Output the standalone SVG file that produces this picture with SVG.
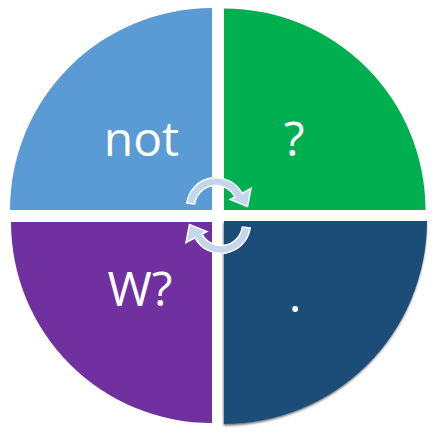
<svg xmlns="http://www.w3.org/2000/svg" xmlns:xlink="http://www.w3.org/1999/xlink" width="436" height="433" viewBox="0 0 436 433">
  <style>
    .lbl { font-family: "Open Sans", "Liberation Sans", sans-serif; font-size: 48px; fill: #ffffff; text-anchor: middle; }
    .arrow { fill: #c3d6ec; stroke: #ffffff; stroke-width: 1.5; stroke-linejoin: miter; }
  </style>
  <defs>
    <filter id="shadow" x="-10%" y="-10%" width="120%" height="120%">
      <feDropShadow dx="-0.5" dy="1.5" stdDeviation="1.3" flood-color="#000000" flood-opacity="0.6"/>
    </filter>
    <path id="arc" d="M186.8,203 A29.5,29.5 0 0 1 242,193.2 L251,188.5 L247.5,206.5 L230.1,199.5 L235,196.9 A21.5,21.5 0 0 0 194.7,204 Z"/>
  </defs>
  <rect width="436" height="433" fill="#ffffff"/>
  <g id="q-blue">
    <path d="M212,210 H10 A202,202 0 0 1 212,8 Z" fill="#5b9bd5"/>
    <text class="lbl" x="141.5" y="156">not</text>
  </g>
  <g id="q-green">
    <path d="M224,210 V8.5 A201.5,201.5 0 0 1 425.5,210 Z" fill="#00b050"/>
    <text class="lbl" x="294" y="156">?</text>
  </g>
  <g id="q-purple">
    <path d="M212,222 H11 A201,201 0 0 0 212,423 Z" fill="#7030a0"/>
    <text class="lbl" x="140" y="306">W?</text>
  </g>
  <g id="q-navy">
    <path d="M224,221 H427 A203,203 0 0 1 224,424 Z" fill="#1f4e79" filter="url(#shadow)"/>
    <text class="lbl" x="295" y="312">.</text>
  </g>
  <g id="connectors">
    <use xlink:href="#arc" class="arrow"/>
    <use xlink:href="#arc" class="arrow" transform="rotate(180 218.5 215.5)"/>
  </g>
</svg>
